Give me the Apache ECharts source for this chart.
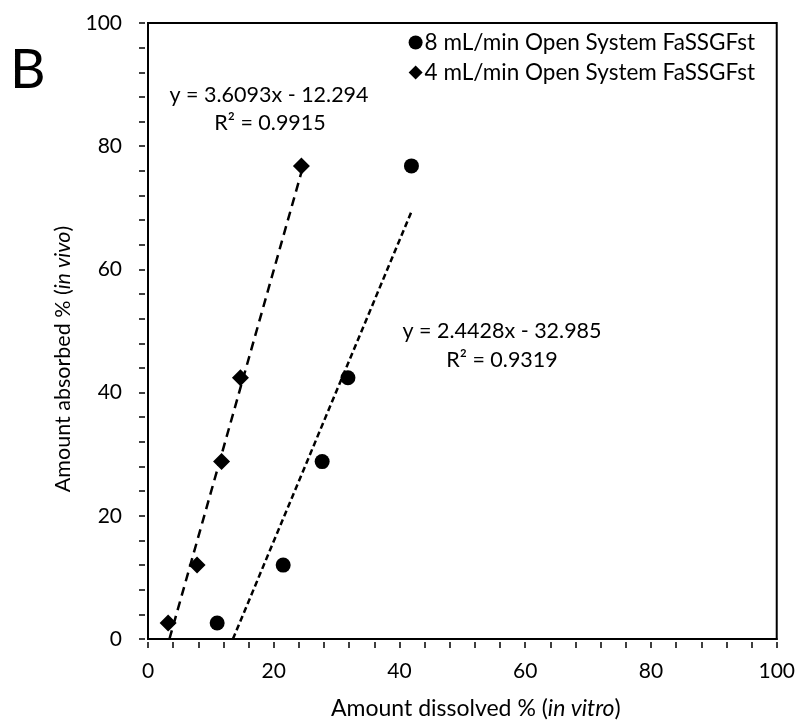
<!DOCTYPE html>
<html>
<head>
<meta charset="utf-8">
<script src="https://cdn.jsdelivr.net/npm/echarts@6/dist/echarts.min.js"></script>
<style>
  html, body { margin: 0; padding: 0; background: #fff; }
  #chart { width: 798px; height: 728px; }
</style>
</head>
<body>
<div id="chart"></div>
<script>
// In vivo absorption vs. in vitro dissolution (Levy plot)
const seriesNames = ['8 mL/min Open System FaSSGFst', '4 mL/min Open System FaSSGFst'];
const absorbed = [2.6, 12.0, 28.8, 42.4, 76.8];
const dissolved8 = [11.0, 21.5, 27.7, 31.8, 41.9];
const dissolved4 = [3.2, 7.8, 11.7, 14.7, 24.4];

// Linear fits: y = slope * x + intercept
const slopes = [2.4428, 3.6093];
const intercepts = [-32.985, -12.294];
const rSquared = [0.9319, 0.9915];

const axisTicks = [0, 20, 40, 60, 80, 100];

const FONT = 'Lato';
const TICK_LEN = 6;
const pairs = (xs, ys) => xs.map((x, i) => [x, ys[i]]);

function fitLine(k, xs) {
  const x0 = -intercepts[k] / slopes[k];
  const x1 = Math.max(...xs);
  return [[x0, 0], [x1, slopes[k] * x1 + intercepts[k]]];
}
function eqText(k) {
  const b = intercepts[k];
  return 'y = ' + slopes[k].toFixed(4) + 'x ' + (b < 0 ? '- ' : '+ ') + Math.abs(b).toFixed(3);
}

const range = { type: 'value', min: axisTicks[0], max: axisTicks[axisTicks.length - 1], interval: 20 };

// main axis: line, labels and title
function mainAxis(title, gap, labelMargin, titleSize, titlePad) {
  return Object.assign({}, range, {
    axisLine: { show: true, onZero: false, lineStyle: { color: '#000', width: 2 } },
    axisTick: { show: false },
    minorTick: { show: false },
    splitLine: { show: false },
    axisLabel: { color: '#000', fontFamily: FONT, fontSize: 21, margin: labelMargin },
    name: title,
    nameLocation: 'middle', nameGap: gap,
    nameTextStyle: { color: '#000', fontFamily: FONT, fontSize: titleSize, padding: titlePad,
      rich: { i: { fontStyle: 'italic', fontFamily: FONT, fontSize: titleSize, color: '#000' } } }
  });
}
// companion axis carrying the outward major/minor ticks
function tickAxis(position) {
  return Object.assign({}, range, {
    position: position, offset: TICK_LEN / 2,
    axisLine: { show: false, onZero: false },
    axisTick: { show: true, length: TICK_LEN, lineStyle: { color: '#000', width: 1.5 } },
    minorTick: { show: true, splitNumber: 5, length: TICK_LEN, lineStyle: { color: '#000', width: 1.5 } },
    splitLine: { show: false },
    axisLabel: { show: false }
  });
}

const chart = echarts.init(document.getElementById('chart'));
chart.setOption({
  animation: false,
  backgroundColor: '#fff',
  grid: { left: 148, right: 21, top: 23, bottom: 89, show: true, borderColor: '#000', borderWidth: 2 },
  xAxis: [
    mainAxis('Amount dissolved % ({i|in vitro})', 58, 22, 23, [0, 0, 0, 27]),
    tickAxis('bottom')
  ],
  yAxis: [
    mainAxis('Amount absorbed % ({i|in vivo})', 62, 26, 21.5, [0, 56, 0, 0]),
    tickAxis('left')
  ],
  legend: {
    data: [
      { name: seriesNames[0], icon: 'circle' },
      { name: seriesNames[1], icon: 'diamond' }
    ],
    orient: 'vertical', right: 38, top: 26, itemGap: 7,
    itemWidth: 14, itemHeight: 14,
    itemStyle: { color: '#000', opacity: 1 },
    textStyle: { color: '#000', fontFamily: FONT, fontSize: 22.5, padding: [0, 0, 0, -3] }
  },
  series: [
    {
      name: seriesNames[0], type: 'scatter', symbol: 'circle', symbolSize: 15,
      itemStyle: { color: '#000', opacity: 1 }, data: pairs(dissolved8, absorbed), z: 3
    },
    {
      name: seriesNames[1], type: 'scatter', symbol: 'diamond', symbolSize: 17,
      itemStyle: { color: '#000', opacity: 1 }, data: pairs(dissolved4, absorbed), z: 3
    },
    {
      name: 'fit8', type: 'line', showSymbol: false, silent: true,
      lineStyle: { color: '#000', width: 2.5, type: [6, 3.5] },
      data: fitLine(0, dissolved8), z: 2
    },
    {
      name: 'fit4', type: 'line', showSymbol: false, silent: true,
      lineStyle: { color: '#000', width: 2.5, type: [9, 6] },
      data: fitLine(1, dissolved4), z: 2
    }
  ],
  graphic: [
    { type: 'text', left: 10, top: 43, style: { text: 'B', font: '55px ' + FONT, fill: '#000' } },
    { type: 'text', x: 269, y: 95, style: { text: eqText(1), font: '21.5px ' + FONT, fill: '#000', align: 'center', verticalAlign: 'middle' } },
    { type: 'text', x: 270, y: 123, style: { text: 'R² = ' + rSquared[1].toFixed(4), font: '21.5px ' + FONT, fill: '#000', align: 'center', verticalAlign: 'middle' } },
    { type: 'text', x: 502, y: 331, style: { text: eqText(0), font: '21.5px ' + FONT, fill: '#000', align: 'center', verticalAlign: 'middle' } },
    { type: 'text', x: 502, y: 360, style: { text: 'R² = ' + rSquared[0].toFixed(4), font: '21.5px ' + FONT, fill: '#000', align: 'center', verticalAlign: 'middle' } }
  ]
});
</script>
</body>
</html>
